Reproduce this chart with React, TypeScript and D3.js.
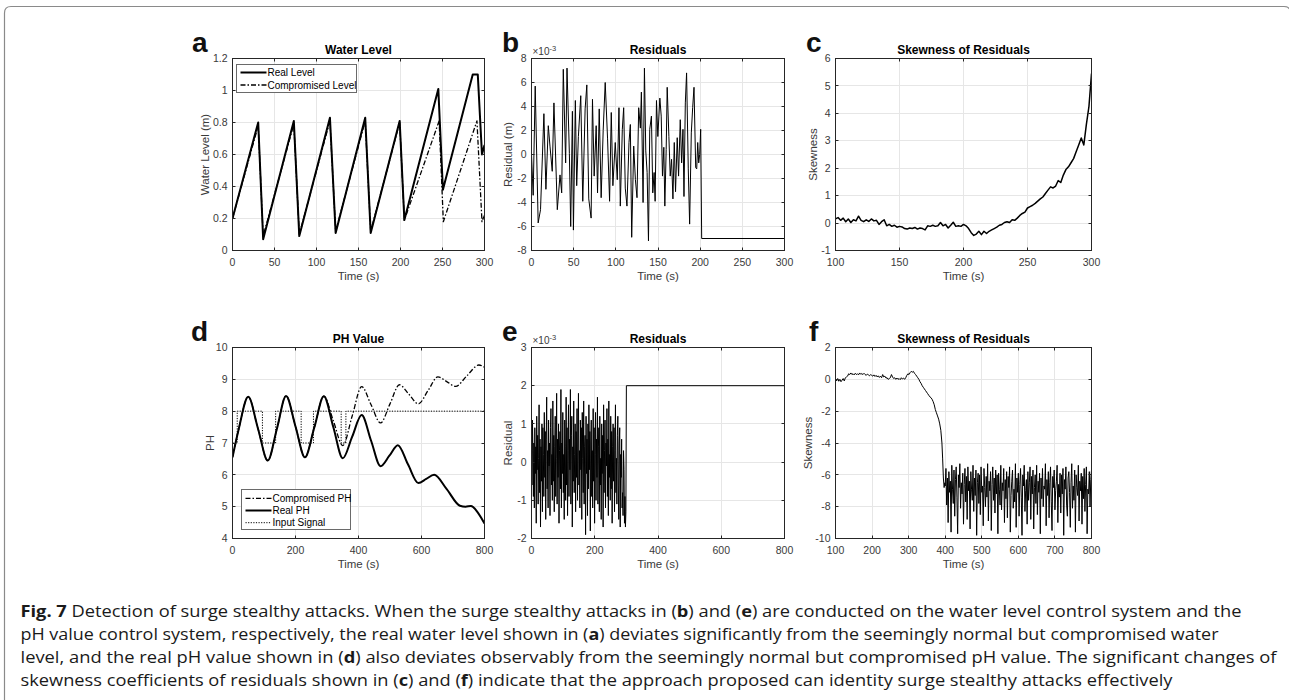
import React from 'react';
import * as d3 from 'd3';

// ---------- Panel a: Water Level ----------
const realLevelTime = [0, 30.6, 36.5, 73, 79.5, 116, 122.8, 158, 164.5, 199, 204.6, 245, 250.5, 286, 292, 297, 300];
const realLevel = [0.2, 0.8, 0.07, 0.81, 0.09, 0.83, 0.11, 0.83, 0.11, 0.81, 0.19, 1.01, 0.38, 1.1, 1.1, 0.6, 0.66];
const compLevelTime = [0, 30.6, 36.5, 73, 79.5, 116, 122.8, 158, 164.5, 199, 204.6, 246, 251, 291, 297, 300];
const compLevel = [0.2, 0.78, 0.09, 0.79, 0.1, 0.81, 0.12, 0.81, 0.12, 0.8, 0.19, 0.81, 0.18, 0.81, 0.18, 0.22];

// ---------- Panel b: Residuals (x1e-3) ----------
const resATime = [0, 2.0, 4.4, 7.9, 10.7, 14.7, 17.1, 19.9, 21.9, 24.6, 26.6, 30.6, 33.8, 35.8, 37.7, 40.5, 42.1, 44.9, 46.5, 48.5,
  49.7, 52.0, 53.6, 55.6, 58.4, 60.8, 63.6, 65.6, 67.9, 70.7, 72.3, 74.3, 76.7, 78.3, 80.3, 82.6, 85.0, 87.4, 90.2, 92.6,
  94.6, 96.5, 99.3, 101.7, 103.7, 105.3, 107.7, 109.3, 111.2, 113.2, 115.6, 117.2, 118.8, 121.2, 123.2, 125.1, 127.1, 129.1, 130.3, 132.3,
  133.9, 135.5, 137.1, 138.7, 140.2, 142.2, 143.8, 145.4, 146.6, 148.2, 149.8, 152.2, 153.8, 155.3, 156.9, 158.1, 159.7, 160.9, 162.9, 164.5,
  166.1, 167.7, 169.3, 170.8, 172.8, 174.4, 176.4, 178.0, 179.6, 180.8, 182.4, 183.9, 185.9, 187.5, 189.5, 191.1, 192.7, 194.7, 195.9, 197.1,
  198.3, 199.4, 200.6, 201.8, 300];
const resAVal = [0, -3.4, 5.7, -5.7, -4.6, 3.4, -2.9, 2.4, 0.7, -1.4, 4.3, -4.6, -1.7, -3.2, 7.1, -0.7, 7.2, 0.1, -6.0, 3.6,
  -6.3, 4.5, -2.6, 1.5, 4.9, -3.9, 3.8, 5.8, -3.7, -5.3, 4.6, -1.8, 2.4, -3.2, 3.8, -3.6, 2.0, 6.0, 1.3, -3.9,
  3.5, -2.6, 1.0, -2.1, 3.9, -4.3, 2.1, 3.9, -2.8, -4.3, 1.0, 2.5, -6.9, 0.7, -2.1, -3.6, 3.9, 2.2, 5.2, -4.0,
  7.2, 0.3, -1.5, -7.2, 2.1, 3.2, -3.2, -1.5, -3.9, 4.5, 1.5, 4.7, 3.2, -1.8, 0.6, -4.3, 0.4, 5.6, 1.5, -1.8,
  -0.4, -3.7, 1.0, -3.1, 1.4, -1.8, 2.9, -0.7, 2.1, -3.5, 4.3, 6.8, -1.2, -5.8, 1.8, 3.9, 5.6, -1.1, -1.2, 1.0,
  -0.7, 0.0, 2.1, -7.0, -7.0];

// ---------- Panel c: Skewness of residuals (water) ----------
const skewATime = d3.range(100, 301, 2);
const skewAVal = [0.15, 0.2, 0.1, 0.18, 0.05, 0.15, 0.02, 0.12, 0.08, 0.25,
  0.1, 0.05, 0.12, 0.06, 0.15, 0.08, 0.1, -0.05, 0.05, 0.12,
  -0.1, -0.05, -0.12, -0.08, -0.15, -0.12, -0.14, -0.2, -0.22, -0.18,
  -0.2, -0.16, -0.22, -0.18, -0.2, -0.25, -0.1, -0.12, -0.08, -0.12,
  -0.1, 0.02, -0.1, -0.05, -0.18, -0.08, 0.03, -0.12, -0.1, -0.12,
  -0.05, -0.1, -0.2, -0.35, -0.45, -0.4, -0.3, -0.42, -0.3, -0.38,
  -0.3, -0.25, -0.2, -0.15, -0.08, -0.05, 0.02, 0.05, 0.02, 0.12,
  0.1, 0.18, 0.28, 0.35, 0.4, 0.55, 0.6, 0.65, 0.72, 0.8,
  0.88, 0.95, 1.08, 1.2, 1.32, 1.28, 1.35, 1.55, 1.48, 1.75,
  1.95, 2.05, 2.2, 2.35, 2.6, 2.85, 3.1, 2.85, 3.6, 4.25, 5.45];

// ---------- Panel d: PH Value ----------
const realPhTime = [0, 20, 50, 81, 112, 141, 170, 200, 230, 260, 290, 320, 350, 380, 410, 440, 470, 498, 525, 557, 590, 615, 640, 680, 722, 740, 757, 780, 800];
const realPh = [6.55, 7.45, 8.45, 7.45, 6.45, 7.45, 8.48, 7.52, 6.55, 7.5, 8.47, 7.5, 6.52, 7.2, 7.88, 7.07, 6.27, 6.6, 6.93, 6.33, 5.74, 5.87, 6.0, 5.55, 5.03, 5.0, 5.02, 4.8, 4.47];
const compPhTime = [0, 20, 50, 81, 112, 141, 170, 200, 230, 260, 290, 320, 350, 380, 410, 440, 470, 500, 530, 560, 590, 621, 652, 680, 708, 745, 782, 800];
const compPh = [6.55, 7.45, 8.45, 7.45, 6.45, 7.45, 8.48, 7.52, 6.55, 7.5, 8.47, 7.7, 6.92, 7.85, 8.77, 8.2, 7.63, 8.23, 8.83, 8.53, 8.23, 8.65, 9.08, 8.93, 8.78, 9.12, 9.45, 9.38];
const inputTime = [0, 15, 95, 137, 218, 257, 345, 360, 800];
const inputPh = [7, 8, 7, 8, 7, 8, 7, 8, 8];

// ---------- Panel e: Residuals (x1e-3) ----------
const resBVal = [0.8, -0.6, 1.1, 0.3, -0.9, 0.5, -1.2, 0.9, -0.3, 0.4,
  -1.6, 1.2, -0.2, 0.7, -1.1, 0.1, 1.5, -0.8, 0.6, -1.7,
  0.4, -0.5, 1.0, -1.3, 0.9, 0.2, -0.9, 1.3, -0.4, 0.8,
  -1.5, 0.6, 1.7, -0.7, 0.3, -1.2, 1.1, -0.1, 0.5, -1.4,
  0.9, 1.4, -0.6, 0.2, -1.0, 1.6, -0.5, 0.7, -1.3, 0.4,
  1.2, -0.9, 0.1, 1.8, -1.1, 0.6, -0.4, 1.0, -1.6, 0.3,
  0.8, -0.7, 1.9, -1.2, 0.5, -0.3, 1.3, -0.8, 0.2, -1.5,
  1.1, 0.4, -1.0, 1.7, -0.6, 0.9, -1.4, 0.3, 1.5, -0.9,
  0.6, -0.2, 1.9, -1.1, 0.7, 1.2, -1.7, 0.4, -0.5, 1.6,
  -0.8, 0.2, 1.0, -1.3, 0.8, -0.4, 1.4, -1.0, 0.5, 1.8,
  -0.6, 0.3, -1.2, 1.1, -0.2, 0.9, -1.5, 1.3, 0.1, -0.8,
  1.6, -1.1, 0.4, 0.7, -1.9, 1.2, -0.3, 0.6, -1.4, 1.0,
  -0.7, 1.5, -0.2, 0.8, -1.8, 0.5, 1.1, -0.9, 0.3, -1.2,
  1.4, -0.5, 0.9, -1.6, 0.2, 1.3, -1.0, 0.6, -0.4, 1.7,
  -1.1, 0.4, 0.9, -1.3, 1.2, -0.6, 0.1, -1.5, 1.0, -0.3,
  0.7, -1.7, 1.5, -0.8, 0.3, 1.1, -1.2, 0.5, -0.1, 1.4,
  -0.9, 0.6, -1.4, 1.6, -0.4, 0.2, -1.0, 1.2, -0.7, 0.8,
  -1.6, 0.4, 1.0, -0.5, 0.9, -1.3, 0.3, 1.5, -0.8, 0.1,
  -1.1, 0.7, 1.2, -0.6, -1.5, 0.5, 0.9, -1.7, 0.2, -0.4,
  0.6, -1.2, -0.8, -1.4, 0.3, -0.2, -1.6, -0.9, -1.7, -1.3,
  2.0, 2.0];
const resBTime = [...d3.range(0, 300, 1.5), 300, 800];

// ---------- Panel f: Skewness of residuals (pH) ----------
const skewBEarlyTime = [100, 103, 106, 109, 112, 115, 118, 121, 124, 127, 130, 133, 136, 139, 142, 145, 148, 151, 154, 157,
  160, 163, 166, 169, 172, 175, 178, 181, 184, 187, 190, 193, 196, 199, 202, 205, 208, 211, 214, 217,
  220, 223, 226, 229, 232, 235, 238, 241, 244, 247, 250, 253, 256, 259, 262, 265, 268, 271, 274, 277,
  280, 283, 286, 289, 292, 295, 298, 301, 304, 307, 310, 313, 316, 319, 322, 325, 328, 331, 334, 337,
  340, 343, 346, 349, 352, 355, 358, 361, 364, 367, 370, 373, 376, 379, 382, 385, 388, 391, 393, 395, 397, 399];
const skewBEarly = [0.0, -0.1, 0.05, -0.12, 0.0, -0.15, -0.05, 0.05, -0.1, 0.1, 0.15, 0.2, 0.35, 0.3, 0.4, 0.3, 0.35, 0.28, 0.38, 0.3,
  0.35, 0.28, 0.4, 0.32, 0.36, 0.3, 0.38, 0.3, 0.25, 0.33, 0.28, 0.22, 0.3, 0.25, 0.2, 0.28, 0.18, 0.25, 0.15, 0.22,
  0.12, 0.2, 0.1, 0.3, 0.15, 0.2, 0.08, 0.1, 0.0, 0.05, 0.1, 0.3, 0.15, 0.05, 0.1, 0.0, 0.08, 0.0, 0.05, -0.02,
  0.1, 0.02, 0.08, 0.0, 0.1, 0.25, 0.35, 0.3, 0.42, 0.5, 0.45, 0.5, 0.38, 0.3, 0.2, 0.1, 0.0, -0.15, -0.25, -0.4,
  -0.5, -0.6, -0.7, -0.8, -0.9, -1.0, -1.1, -1.15, -1.25, -1.4, -1.6, -1.9, -2.1, -2.3, -2.5, -2.8, -3.2, -4.0, -5.0, -6.2, -6.8, -6.5];
const skewBLateTime = d3.range(400, 801, 2);
const skewBLate = [-6.7, -5.6, -7.9, -6.2, -9.0, -5.8, -7.1, -6.4, -9.6, -5.4,
  -6.9, -7.8, -5.7, -8.6, -6.3, -5.5, -7.4, -9.7, -6.0, -6.8,
  -5.3, -8.1, -6.5, -7.2, -5.9, -9.1, -6.6, -5.6, -7.7, -6.1,
  -8.8, -5.5, -7.0, -6.4, -9.4, -5.8, -6.9, -7.6, -5.4, -8.3,
  -6.2, -7.3, -5.7, -9.8, -6.5, -5.9, -7.8, -6.0, -8.5, -5.5,
  -7.1, -6.7, -9.2, -5.6, -6.8, -8.0, -6.1, -7.4, -5.3, -8.9,
  -6.4, -7.0, -5.8, -9.5, -6.6, -5.5, -7.6, -6.2, -8.4, -5.7,
  -7.2, -6.0, -9.7, -5.9, -6.9, -7.9, -5.4, -8.2, -6.5, -7.0,
  -5.6, -9.0, -6.3, -7.5, -5.8, -8.7, -6.1, -6.8, -5.5, -9.6,
  -7.3, -6.4, -5.7, -8.1, -6.9, -7.7, -5.3, -9.3, -6.2, -7.1,
  -5.9, -8.6, -6.6, -5.6, -7.4, -9.8, -6.0, -6.7, -5.4, -8.3,
  -7.0, -6.3, -9.1, -5.8, -7.6, -6.5, -5.5, -8.8, -6.1, -7.2,
  -5.7, -9.4, -6.8, -6.0, -7.8, -5.4, -8.5, -6.4, -7.1, -5.9,
  -9.7, -6.2, -7.5, -5.6, -8.0, -6.7, -6.9, -5.3, -9.2, -6.3,
  -7.3, -5.8, -8.7, -6.5, -5.5, -7.7, -9.5, -6.1, -6.8, -5.7,
  -8.2, -7.0, -6.4, -5.4, -9.0, -6.6, -7.4, -5.9, -8.4, -6.0,
  -7.2, -5.6, -9.8, -6.3, -6.9, -5.5, -7.9, -8.6, -6.2, -5.8,
  -7.1, -9.3, -6.5, -5.3, -8.1, -6.7, -7.6, -5.7, -9.6, -6.0,
  -6.8, -7.3, -5.4, -8.9, -6.4, -7.0, -5.9, -9.1, -6.1, -7.5,
  -5.6, -8.3, -6.6, -5.5, -9.7, -6.9, -7.2, -5.8, -8.0, -6.3,
  -5.7];

// ---------- Tick values ----------
const levelYTicks = [0, 0.2, 0.4, 0.6, 0.8, 1, 1.2];
const time300Ticks = [0, 50, 100, 150, 200, 250, 300];
const resAYTicks = [-8, -6, -4, -2, 0, 2, 4, 6, 8];
const skewAXTicks = [100, 150, 200, 250, 300];
const skewAYTicks = [-1, 0, 1, 2, 3, 4, 5, 6];
const phYTicks = [4, 5, 6, 7, 8, 9, 10];
const time800Ticks = [0, 200, 400, 600, 800];
const resBYTicks = [-2, -1, 0, 1, 2, 3];
const skewBXTicks = [100, 200, 300, 400, 500, 600, 700, 800];
const skewBYTicks = [-10, -8, -6, -4, -2, 0, 2];

const captionLines: [string, boolean][][] = [
  [['Fig. 7', true], [' Detection of surge stealthy attacks. When the surge stealthy attacks in (', false], ['b', true], [') and (', false], ['e', true], [') are conducted on the water level control system and the', false]],
  [['pH value control system, respectively, the real water level shown in (', false], ['a', true], [') deviates significantly from the seemingly normal but compromised water', false]],
  [['level, and the real pH value shown in (', false], ['d', true], [') also deviates observably from the seemingly normal but compromised pH value. The significant changes of', false]],
  [['skewness coefficients of residuals shown in (', false], ['c', true], [') and (', false], ['f', true], [') indicate that the approach proposed can identity surge stealthy attacks effectively', false]],
];
const captionWidths = [1221, 1198, 1256, 1152];

const SANS = 'Liberation Sans, Arial, Helvetica, sans-serif';
const DASHDOT = '5,2,1.5,2';
const DOTTED = '1.2,1.4';

type Series = { t: number[]; v: number[]; width: number; dash?: string; curve?: any };
type LegendItem = { label: string; width: number; dash?: string };

type PanelProps = {
  id: string;
  box: [number, number, number, number];
  xDomain: [number, number];
  yDomain: [number, number];
  xTicks: number[];
  yTicks: number[];
  title: string;
  ylabel: string;
  ylabelOffset: number;
  letter: string;
  letterPos: [number, number];
  exponent?: boolean;
  series: Series[];
  legend?: { box: [number, number, number, number]; rows: number[]; items: LegendItem[] };
};

function Panel(p: PanelProps) {
  const [x0, x1, y0, y1] = p.box;
  const xs = d3.scaleLinear().domain(p.xDomain).range([x0, x1]);
  const ys = d3.scaleLinear().domain(p.yDomain).range([y1, y0]);
  const tl = 3;
  const tickColor = '#3a3a3a';
  const snap = (v: number) => Math.round(v - 0.5) + 0.5;
  return (
    <g>
      <clipPath id={'clip-' + p.id}>
        <rect x={x0} y={y0} width={x1 - x0} height={y1 - y0} />
      </clipPath>
      {p.xTicks.map((t) => (
        <line key={'gx' + t} x1={snap(xs(t))} x2={snap(xs(t))} y1={y0} y2={y1} stroke="#e6e6e6" strokeWidth={1} />
      ))}
      {p.yTicks.map((t) => (
        <line key={'gy' + t} x1={x0} x2={x1} y1={snap(ys(t))} y2={snap(ys(t))} stroke="#e6e6e6" strokeWidth={1} />
      ))}
      <g clipPath={`url(#clip-${p.id})`}>
        {p.series.map((s, i) => {
          const pts = s.t.map((t, k) => [t, s.v[k]] as [number, number]);
          const gen = d3.line<[number, number]>().x((d) => xs(d[0])).y((d) => ys(d[1])).curve(s.curve || d3.curveLinear);
          return <path key={i} d={gen(pts) || ''} fill="none" stroke="#000" strokeWidth={s.width} strokeDasharray={s.dash} strokeLinejoin="round" />;
        })}
      </g>
      <rect x={x0} y={y0} width={x1 - x0} height={y1 - y0} fill="none" stroke="#262626" strokeWidth={1} />
      {p.xTicks.map((t) => (
        <g key={'tx' + t}>
          <line x1={snap(xs(t))} x2={snap(xs(t))} y1={y1} y2={y1 - tl} stroke="#262626" />
          <line x1={snap(xs(t))} x2={snap(xs(t))} y1={y0} y2={y0 + tl} stroke="#262626" />
          <text x={xs(t)} y={y1 + 15} textAnchor="middle" fontSize={10.5} fill={tickColor} fontFamily={SANS}>{String(t)}</text>
        </g>
      ))}
      {p.yTicks.map((t) => (
        <g key={'ty' + t}>
          <line x1={x0} x2={x0 + tl} y1={snap(ys(t))} y2={snap(ys(t))} stroke="#262626" />
          <line x1={x1} x2={x1 - tl} y1={snap(ys(t))} y2={snap(ys(t))} stroke="#262626" />
          <text x={x0 - 5} y={ys(t) + 3.7} textAnchor="end" fontSize={10.5} fill={tickColor} fontFamily={SANS}>{String(t)}</text>
        </g>
      ))}
      <text x={(x0 + x1) / 2} y={y0 - 5} textAnchor="middle" fontSize={12} fontWeight="bold" fill="#000" fontFamily={SANS}>{p.title}</text>
      <text x={(x0 + x1) / 2} y={y1 + 29.5} textAnchor="middle" fontSize={11.5} fill={tickColor} fontFamily={SANS}>Time (s)</text>
      <text transform={`translate(${x0 + p.ylabelOffset},${(y0 + y1) / 2}) rotate(-90)`} textAnchor="middle" fontSize={11.5} fill={tickColor} fontFamily={SANS}>{p.ylabel}</text>
      <text x={p.letterPos[0]} y={p.letterPos[1]} fontSize={28} fontWeight="bold" fill="#111" fontFamily={SANS}>{p.letter}</text>
      {p.exponent && (
        <text x={x0 + 1} y={y0 - 3.5} fontSize={10} fill={tickColor} fontFamily={SANS}>
          ×10<tspan dy={-4} fontSize={7.5}>-3</tspan>
        </text>
      )}
      {p.legend && (
        <g>
          <rect x={p.legend.box[0]} y={p.legend.box[1]} width={p.legend.box[2] - p.legend.box[0]} height={p.legend.box[3] - p.legend.box[1]} fill="#fff" stroke="#6a6a6a" strokeWidth={1} />
          {p.legend.items.map((it, i) => (
            <g key={it.label}>
              <line x1={p.legend!.box[0] + 4} x2={p.legend!.box[0] + 30} y1={p.legend!.rows[i]} y2={p.legend!.rows[i]} stroke="#000" strokeWidth={it.width} strokeDasharray={it.dash} />
              <text x={p.legend!.box[0] + 31} y={p.legend!.rows[i] + 3.5} fontSize={10} fill="#000" fontFamily={SANS}>{it.label}</text>
            </g>
          ))}
        </g>
      )}
    </g>
  );
}

export default function App() {
  const top: [number, number] = [58.5, 250.5];
  const bot: [number, number] = [347.5, 538.5];
  return (
    <svg width={1289} height={700} viewBox="0 0 1289 700" style={{ position: 'absolute', left: 0, top: 0, background: '#fff' }}>
      <rect x={0} y={0} width={1289} height={700} fill="#fff" />
      <path d="M4.5,710 L4.5,13 Q4.5,6.5 11,6.5 L1284,6.5 Q1290.5,6.5 1290.5,13 L1290.5,710" fill="none" stroke="#8a8a8a" strokeWidth={1.2} />

      <Panel id="a" box={[232.5, 484.5, top[0], top[1]]} xDomain={[0, 300]} yDomain={[0, 1.2]} xTicks={time300Ticks} yTicks={levelYTicks}
        title="Water Level" ylabel="Water Level (m)" ylabelOffset={-24} letter="a" letterPos={[192, 52]}
        series={[
          { t: compLevelTime, v: compLevel, width: 1.3, dash: DASHDOT },
          { t: realLevelTime, v: realLevel, width: 2 },
        ]}
        legend={{ box: [236.5, 64.5, 356.5, 92.5], rows: [72.5, 85], items: [
          { label: 'Real Level', width: 2 },
          { label: 'Compromised Level', width: 1.3, dash: DASHDOT },
        ] }}
      />
      <Panel id="b" box={[531.5, 784.5, top[0], top[1]]} xDomain={[0, 300]} yDomain={[-8, 8]} xTicks={time300Ticks} yTicks={resAYTicks}
        title="Residuals" ylabel="Residual (m)" ylabelOffset={-20} letter="b" letterPos={[502, 52]} exponent
        series={[{ t: resATime, v: resAVal, width: 1 }]}
      />
      <Panel id="c" box={[835.5, 1091.5, top[0], top[1]]} xDomain={[100, 300]} yDomain={[-1, 6]} xTicks={skewAXTicks} yTicks={skewAYTicks}
        title="Skewness of Residuals" ylabel="Skewness" ylabelOffset={-19} letter="c" letterPos={[806, 52]}
        series={[{ t: skewATime, v: skewAVal, width: 1.5 }]}
      />
      <Panel id="d" box={[232.5, 484.5, bot[0], bot[1]]} xDomain={[0, 800]} yDomain={[4, 10]} xTicks={time800Ticks} yTicks={phYTicks}
        title="PH Value" ylabel="PH" ylabelOffset={-19} letter="d" letterPos={[191, 341]}
        series={[
          { t: inputTime, v: inputPh, width: 1, dash: DOTTED, curve: d3.curveStepAfter },
          { t: compPhTime, v: compPh, width: 1.3, dash: DASHDOT, curve: d3.curveMonotoneX },
          { t: realPhTime, v: realPh, width: 2, curve: d3.curveMonotoneX },
        ]}
        legend={{ box: [241.5, 489.5, 350.5, 529.5], rows: [498.3, 510.5, 522.7], items: [
          { label: 'Compromised PH', width: 1.3, dash: DASHDOT },
          { label: 'Real PH', width: 2 },
          { label: 'Input Signal', width: 1, dash: DOTTED },
        ] }}
      />
      <Panel id="e" box={[531.5, 784.5, bot[0], bot[1]]} xDomain={[0, 800]} yDomain={[-2, 3]} xTicks={time800Ticks} yTicks={resBYTicks}
        title="Residuals" ylabel="Residual" ylabelOffset={-20} letter="e" letterPos={[502, 341]} exponent
        series={[{ t: resBTime, v: resBVal, width: 1 }]}
      />
      <Panel id="f" box={[835.5, 1091.5, bot[0], bot[1]]} xDomain={[100, 800]} yDomain={[-10, 2]} xTicks={skewBXTicks} yTicks={skewBYTicks}
        title="Skewness of Residuals" ylabel="Skewness" ylabelOffset={-24} letter="f" letterPos={[809, 341]}
        series={[{ t: [...skewBEarlyTime, ...skewBLateTime], v: [...skewBEarly, ...skewBLate], width: 1 }]}
      />

      {captionLines.map((line, i) => (
        <text key={i} x={20.5} y={617 + i * 23} fontSize={16} fill="#1a1a1a" fontFamily="Open Sans, Noto Sans, sans-serif"
          textLength={captionWidths[i]} lengthAdjust="spacingAndGlyphs">
          {line.map(([s, b], k) => (
            <tspan key={k} fontWeight={b ? 'bold' : 'normal'}>{s}</tspan>
          ))}
        </text>
      ))}
    </svg>
  );
}
